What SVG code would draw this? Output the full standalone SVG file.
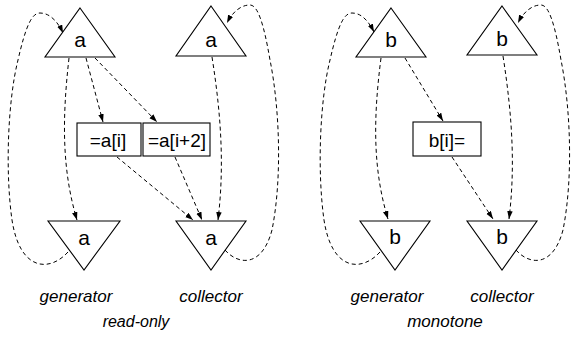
<svg xmlns="http://www.w3.org/2000/svg" width="572" height="341" viewBox="0 0 572 341">
<style>
.tri{fill:#fff;stroke:#000;stroke-width:1.1}
.box{fill:#fff;stroke:#000;stroke-width:1.1}
.lbl{font-family:"Liberation Sans",Arial,sans-serif;font-size:21px;text-anchor:middle;fill:#000}
.bt{font-family:"Liberation Sans",Arial,sans-serif;font-size:19px;text-anchor:middle;fill:#000}
.cap{font-family:"Liberation Sans",Arial,sans-serif;font-size:17px;font-style:italic;text-anchor:middle;fill:#000}
.c{fill:none;stroke:#000;stroke-width:1;stroke-dasharray:4 3;marker-end:url(#ah)}
.cn{fill:none;stroke:#000;stroke-width:1;stroke-dasharray:4 3}
</style>
<defs>
<marker id="ah" markerUnits="userSpaceOnUse" markerWidth="9" markerHeight="6" refX="8" refY="2.75" orient="auto">
<path d="M0,0 L8,2.75 L0,5.5 z" fill="#000"/>
</marker>
</defs>
<rect width="572" height="341" fill="#fff"/>
<g id="connectors">
<path class="c" d="M 68 252 C 50 272, 20 272, 12 220 C 5 170, 8 100, 18 60 C 26 25, 32 13, 40 13 C 50 13, 58 22, 63 33"/>
<path class="c" d="M 69 58 C 62 120, 62 170, 77 220"/>
<path class="c" d="M 86 58 L 103 122"/>
<path class="c" d="M 95 58 L 157 122"/>
<path class="c" d="M 117 157 L 193 220"/>
<path class="c" d="M 175 157 L 202 220"/>
<path class="c" d="M 212 57 C 222 120, 224 170, 218 220"/>
<path class="c" d="M 225 250 C 238 265, 262 268, 272 230 C 282 180, 280 110, 270 60 C 264 25, 258 5, 250 5 C 240 5, 232 13, 227 23"/>
<path class="c" d="M 380 252 C 362 272, 332 272, 324 220 C 317 170, 320 100, 330 60 C 338 25, 344 13, 352 13 C 362 13, 369 22, 374 32"/>
<path class="c" d="M 381 58 C 373 120, 373 170, 388 219"/>
<path class="c" d="M 405 58 L 443 121"/>
<path class="c" d="M 452 157 L 493 219"/>
<path class="c" d="M 503 56 C 513 120, 515 170, 509 219"/>
<path class="c" d="M 516 250 C 529 265, 553 268, 563 230 C 573 180, 571 110, 561 60 C 555 25, 549 5, 541 5 C 531 5, 523 13, 518 23"/>
</g>
<g id="gen_a_top"><polygon class="tri" points="80,8 115,57 45,57"/><text class="lbl" x="80" y="47">a</text></g>
<g id="col_a_top"><polygon class="tri" points="211,6 246,56 176,56"/><text class="lbl" x="211" y="47">a</text></g>
<g id="box_ai"><rect class="box" x="77" y="123" width="64" height="33"/><text class="bt" x="108" y="147">=a[i]</text></g>
<g id="box_ai2"><rect class="box" x="143" y="123" width="67" height="33"/><text class="bt" x="177" y="147">=a[i+2]</text></g>
<g id="gen_a_bot"><polygon class="tri" points="48,221 120,221 84,270"/><text class="lbl" x="84" y="245">a</text></g>
<g id="col_a_bot"><polygon class="tri" points="176,221 246,221 211,270"/><text class="lbl" x="211" y="245">a</text></g>
<g id="gen_b_top"><polygon class="tri" points="391,8 426,57 356,57"/><text class="lbl" x="391" y="47">b</text></g>
<g id="col_b_top"><polygon class="tri" points="502,6 537,55 467,55"/><text class="lbl" x="502" y="46">b</text></g>
<g id="box_bi"><rect class="box" x="413" y="122" width="68" height="34"/><text class="bt" x="447" y="147">b[i]=</text></g>
<g id="gen_b_bot"><polygon class="tri" points="360,221 430,221 395,270"/><text class="lbl" x="395" y="244">b</text></g>
<g id="col_b_bot"><polygon class="tri" points="467,221 537,221 502,270"/><text class="lbl" x="502" y="244">b</text></g>
<g id="captions">
<text class="cap" x="76" y="302">generator</text>
<text class="cap" x="211" y="302">collector</text>
<text class="cap" x="136" y="327" style="font-size:16px">read-only</text>
<text class="cap" x="387" y="302">generator</text>
<text class="cap" x="502" y="302">collector</text>
<text class="cap" x="445" y="327">monotone</text>
</g>
</svg>
